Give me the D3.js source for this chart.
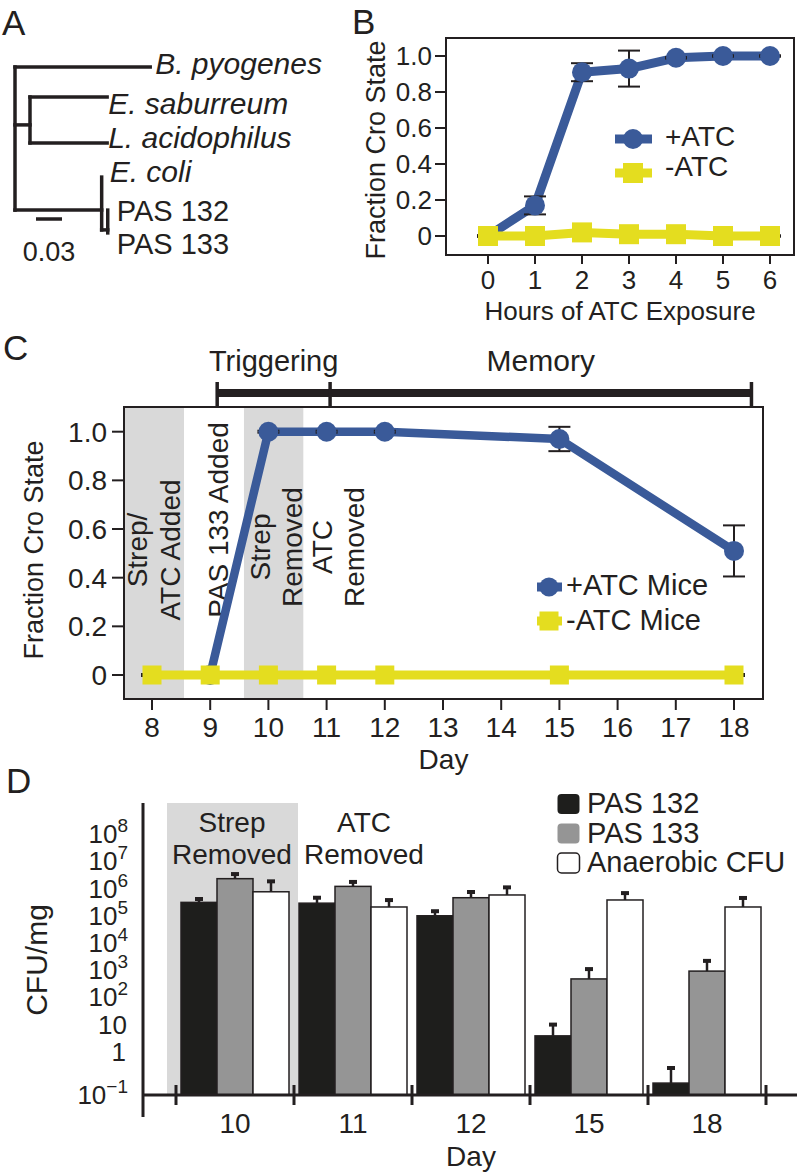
<!DOCTYPE html>
<html><head><meta charset="utf-8">
<script src="https://cdn.jsdelivr.net/npm/d3@7"></script>
<style>
body{margin:0;background:#fff}
svg{display:block}
text{font-family:"Liberation Sans",Arial,Helvetica,sans-serif;fill:#231f20}
</style>
</head><body>
<svg id="fig" width="799" height="1172"></svg>
<script>
// ---------------- DATA ----------------
// Panel A: tree
const treeNames = ["root","B. pyogenes","nodeA","E. saburreum","L. acidophilus","nodeB","E. coli","nodeC","PAS 132","PAS 133"];
const treeParents = [null,"root","root","nodeA","nodeA","root","nodeB","nodeB","nodeC","nodeC"];
const treeBranchLengths = [0,0.156,0.0173,0.089,0.089,0.1,0,0.007,0,0];
const treeRows = [2.4,0,1.93,1,2.53,4.77,3.67,5.43,4.77,5.53];
const scaleBarLength = 0.03;

// Panel B
const hoursB = [0,1,2,3,4,5,6];
const plusATC_B = [0,0.17,0.91,0.93,0.99,1.0,1.0];
const plusATC_B_err = [0.004,0.05,0.05,0.1,0.004,0.004,0.004];
const minusATC_B = [0,0,0.02,0.01,0.01,0,0];
const minusATC_B_err = [0.004,0.004,0.004,0.004,0.004,0.004,0.004];
const fracTicks = [0,0.2,0.4,0.6,0.8,1.0];
const fracTickLabels = ["0","0.2","0.4","0.6","0.8","1.0"];

// Panel C
const daysC_plus = [9,10,11,12,15,18];
const plusATC_C = [0,1,1,1,0.97,0.51];
const plusATC_C_err = [0.004,0.004,0.004,0.004,0.05,0.105];
const daysC_minus = [8,9,10,11,12,15,18];
const minusATC_C = [0,0,0,0,0,0,0];
const minusATC_C_err = [0.004,0.004,0.004,0.004,0.004,0.004,0.004];
const dayTicksC = [8,9,10,11,12,13,14,15,16,17,18];
const shadeC = [[7.4,8.55],[9.58,10.6]];
const phaseBounds = [9.12,11.06,18.3];
const phaseLabels = ["Triggering","Memory"];

// Panel D
const daysD = ["10","11","12","15","18"];
const strainsD = ["PAS 132","PAS 133","Anaerobic CFU"];
const cfuPAS132 = [3.1e5,2.9e5,1.0e5,3.9,0.072];
const cfuPAS132_upper = [4.5e5,5.0e5,1.6e5,11,0.28];
const cfuPAS133 = [2.3e6,1.2e6,4.6e5,480,930];
const cfuPAS133_upper = [3.7e6,1.9e6,8.1e5,1200,2400];
const cfuAnaerobic = [7.6e5,2.1e5,5.8e5,3.8e5,2.1e5];
const cfuAnaerobic_upper = [2.0e6,4.1e5,1.2e6,7.4e5,4.9e5];
const cfuTickExps = [-1,0,1,2,3,4,5,6,7,8];

// ---------------- STYLE ----------------
const BLUE = "#3a5a99", YELLOW = "#e4dd1f", SHADE = "#d9d9d9", INK = "#231f20";
const svg = d3.select("#fig");

function txt(g, x, y, s, o = {}) {
  const t = g.append("text").attr("x", x).attr("y", y).text(s)
    .attr("font-size", o.size || 26).attr("text-anchor", o.anchor || "start");
  if (o.rotate) t.attr("transform", `rotate(${o.rotate},${x},${y})`);
  if (o.italic) t.attr("font-style", "italic");
  return t;
}
function line(g, x1, y1, x2, y2, w, c = INK, cap = "butt") {
  return g.append("line").attr("x1", x1).attr("y1", y1).attr("x2", x2).attr("y2", y2)
    .attr("stroke", c).attr("stroke-width", w).attr("stroke-linecap", cap);
}

// Panel letters
txt(svg, 2, 35, "A", {size: 35});
txt(svg, 352, 34, "B", {size: 35});
txt(svg, 3, 360, "C", {size: 35});
txt(svg, 6, 793, "D", {size: 35});

// ---------------- PANEL A ----------------
(function () {
  const g = svg.append("g");
  const xA = d3.scaleLinear().domain([0, 0.03]).range([15, 41]);
  const yA = d3.scaleLinear().domain([0, 1]).range([67, 97]);
  const nodes = treeNames.map((n, i) => ({name: n, parent: treeParents[i], len: treeBranchLengths[i], row: treeRows[i]}));
  const byName = {};
  nodes.forEach(n => byName[n.name] = n);
  function depth(n) { return n.parent ? n.len + depth(byName[n.parent]) : 0; }
  nodes.forEach(n => n.depth = depth(n));
  nodes.forEach(n => {
    if (!n.parent) return;
    const p = byName[n.parent];
    if (n.len > 0) line(g, xA(p.depth), yA(n.row), xA(n.depth), yA(n.row), 3.5, INK, "square");
  });
  nodes.forEach(n => {
    const kids = nodes.filter(k => k.parent === n.name);
    if (!kids.length) return;
    const rows = kids.map(k => k.row);
    line(g, xA(n.depth), yA(d3.min(rows)), xA(n.depth), yA(d3.max(rows)), 3.5, INK, "square");
  });
  const labelLayout = {
    "B. pyogenes": {dx: 5, dy: 7, size: 30, italic: true},
    "E. saburreum": {dx: 1, dy: 17, size: 30, italic: true},
    "L. acidophilus": {dx: 1, dy: 5, size: 30, italic: true},
    "E. coli": {dx: 8, dy: 5, size: 30, italic: true},
    "PAS 132": {dx: 9, dy: 11, size: 29, italic: false},
    "PAS 133": {dx: 9, dy: 21, size: 29, italic: false}
  };
  nodes.forEach(n => {
    const L = labelLayout[n.name];
    if (!L) return;
    txt(g, xA(n.depth) + L.dx, yA(n.row) + L.dy, n.name, {size: L.size, italic: L.italic});
  });
  const sbx = 36, sby = 219;
  line(g, sbx, sby, sbx + (xA(scaleBarLength) - xA(0)), sby, 3.5);
  txt(g, sbx + (xA(scaleBarLength) - xA(0)) / 2, 261, String(scaleBarLength), {size: 27, anchor: "middle"});
})();

function drawSeries(g, xs, ys, errs, x, y, opt) {
  const pts = xs.map((d, i) => ({x: d, y: ys[i], e: errs[i]}));
  const lineGen = d3.line().x(d => x(d.x)).y(d => y(d.y));
  const err = () => pts.forEach(p => {
    const cx = x(p.x);
    line(g, cx, y(p.y - p.e), cx, y(p.y + p.e), 2);
    line(g, cx - opt.cap, y(p.y + p.e), cx + opt.cap, y(p.y + p.e), 2);
    line(g, cx - opt.cap, y(p.y - p.e), cx + opt.cap, y(p.y - p.e), 2);
  });
  if (opt.errFirst) err();
  g.append("path").datum(pts).attr("d", lineGen).attr("fill", "none")
    .attr("stroke", opt.color).attr("stroke-width", opt.lw).attr("stroke-linejoin", "round");
  if (!opt.errFirst) err();
  if (opt.shape === "circle") {
    g.selectAll(null).data(pts).enter().append("circle")
      .attr("cx", d => x(d.x)).attr("cy", d => y(d.y)).attr("r", opt.size / 2).attr("fill", opt.color);
  } else {
    g.selectAll(null).data(pts).enter().append("rect")
      .attr("x", d => x(d.x) - opt.size / 2).attr("y", d => y(d.y) - opt.size / 2)
      .attr("width", opt.size).attr("height", opt.size).attr("fill", opt.color);
  }
}

// ---------------- PANEL B ----------------
(function () {
  const g = svg.append("g");
  const F = {l: 446, r: 794, t: 38, b: 255};
  const xB = d3.scaleLinear().domain([0, 6]).range([488, 770]);
  const yB = d3.scaleLinear().domain([0, 1]).range([236, 56]);
  g.append("rect").attr("x", F.l).attr("y", F.t).attr("width", F.r - F.l).attr("height", F.b - F.t)
    .attr("fill", "none").attr("stroke", INK).attr("stroke-width", 2);
  fracTicks.forEach((t, i) => {
    line(g, F.l - 11, yB(t), F.l, yB(t), 2);
    txt(g, F.l - 14, yB(t) + 9, fracTickLabels[i], {size: 26, anchor: "end"});
  });
  hoursB.forEach(h => {
    line(g, xB(h), F.b, xB(h), F.b + 9, 2);
    txt(g, xB(h), 289, String(h), {size: 26, anchor: "middle"});
  });
  txt(g, 620, 320, "Hours of ATC Exposure", {size: 26, anchor: "middle"});
  txt(g, 385, 150, "Fraction Cro State", {size: 27, anchor: "middle", rotate: -90});

  drawSeries(g, hoursB, plusATC_B, plusATC_B_err, xB, yB, {color: BLUE, lw: 9, shape: "circle", size: 20, cap: 11});
  drawSeries(g, hoursB, minusATC_B, minusATC_B_err, xB, yB, {color: YELLOW, lw: 9, shape: "rect", size: 20, cap: 11, errFirst: true});

  line(g, 615, 139, 652, 139, 9, BLUE);
  g.append("circle").attr("cx", 633).attr("cy", 139).attr("r", 10).attr("fill", BLUE);
  txt(g, 665, 146, "+ATC", {size: 28});
  line(g, 615, 173, 652, 173, 9, YELLOW);
  g.append("rect").attr("x", 623).attr("y", 163).attr("width", 20).attr("height", 20).attr("fill", YELLOW);
  txt(g, 665, 176, "-ATC", {size: 28});
})();

// ---------------- PANEL C ----------------
(function () {
  const g = svg.append("g");
  const F = {l: 124, r: 763, t: 407, b: 699};
  const xC = d3.scaleLinear().domain([8, 18]).range([152, 734]);
  const yC = d3.scaleLinear().domain([0, 1]).range([675, 431.7]);
  shadeC.forEach(s => {
    const x0 = Math.max(F.l, xC(s[0])), x1 = xC(s[1]);
    g.append("rect").attr("x", x0).attr("y", F.t).attr("width", x1 - x0).attr("height", F.b - F.t).attr("fill", SHADE);
  });
  const ann = [
    {lines: ["Strep/", "ATC Added"], xs: [147, 180], cy: 550},
    {lines: ["PAS 133 Added"], xs: [228], cy: 520},
    {lines: ["Strep", "Removed"], xs: [270, 302], cy: 547},
    {lines: ["ATC", "Removed"], xs: [332, 364], cy: 547}
  ];
  ann.forEach(a => a.lines.forEach((s, i) =>
    txt(g, a.xs[i], a.cy, s, {size: 28, anchor: "middle", rotate: -90})));

  g.append("rect").attr("x", F.l).attr("y", F.t).attr("width", F.r - F.l).attr("height", F.b - F.t)
    .attr("fill", "none").attr("stroke", INK).attr("stroke-width", 2);
  fracTicks.forEach((t, i) => {
    line(g, F.l - 12, yC(t), F.l, yC(t), 2);
    txt(g, F.l - 17, yC(t) + 10, fracTickLabels[i], {size: 28, anchor: "end"});
  });
  dayTicksC.forEach(d => {
    line(g, xC(d), F.b, xC(d), F.b + 11, 2);
    txt(g, xC(d), 737, String(d), {size: 28, anchor: "middle"});
  });
  txt(g, (F.l + F.r) / 2, 769, "Day", {size: 28, anchor: "middle"});
  txt(g, 43, 550, "Fraction Cro State", {size: 27, anchor: "middle", rotate: -90});

  line(g, xC(phaseBounds[0]), 393, xC(phaseBounds[2]), 393, 8);
  phaseBounds.forEach(b => line(g, xC(b), 382, xC(b), 406, 3.5));
  txt(g, (xC(phaseBounds[0]) + xC(phaseBounds[1])) / 2, 371, phaseLabels[0], {size: 29, anchor: "middle"});
  txt(g, (xC(phaseBounds[1]) + xC(phaseBounds[2])) / 2, 371, phaseLabels[1], {size: 30, anchor: "middle"});

  drawSeries(g, daysC_plus, plusATC_C, plusATC_C_err, xC, yC, {color: BLUE, lw: 8.5, shape: "circle", size: 20, cap: 11});
  drawSeries(g, daysC_minus, minusATC_C, minusATC_C_err, xC, yC, {color: YELLOW, lw: 9, shape: "rect", size: 19, cap: 11, errFirst: true});

  line(g, 537, 587, 562, 587, 9, BLUE);
  g.append("circle").attr("cx", 549).attr("cy", 587).attr("r", 9.5).attr("fill", BLUE);
  txt(g, 566, 595, "+ATC Mice", {size: 29});
  line(g, 537, 621, 562, 621, 9, YELLOW);
  g.append("rect").attr("x", 539.5).attr("y", 611.5).attr("width", 19).attr("height", 19).attr("fill", YELLOW);
  txt(g, 566, 630, "-ATC Mice", {size: 29});
})();

// ---------------- PANEL D ----------------
(function () {
  const g = svg.append("g");
  const axisX = 143, axisY = 1095;
  const xD = d3.scaleBand().domain(daysD).range([176, 766]);
  const xSub = d3.scaleBand().domain(strainsD).range([5, 113]);
  const yD = d3.scaleLog().domain([Math.pow(10, -1.58), Math.pow(10, 9.14)]).range([1095, 803]);
  const fills = {"PAS 132": "#1e1e1c", "PAS 133": "#959595", "Anaerobic CFU": "#ffffff"};
  const vals = {"PAS 132": [cfuPAS132, cfuPAS132_upper], "PAS 133": [cfuPAS133, cfuPAS133_upper], "Anaerobic CFU": [cfuAnaerobic, cfuAnaerobic_upper]};

  g.append("rect").attr("x", xD("10") - 9).attr("y", 803).attr("width", xD.bandwidth() + 13).attr("height", axisY - 803).attr("fill", SHADE);
  txt(g, 232, 832, "Strep", {size: 28, anchor: "middle"});
  txt(g, 232, 864, "Removed", {size: 28, anchor: "middle"});
  txt(g, 364, 832, "ATC", {size: 28, anchor: "middle"});
  txt(g, 364, 864, "Removed", {size: 28, anchor: "middle"});

  strainsD.forEach(s => {
    const [m, up] = vals[s];
    daysD.forEach((d, i) => {
      const x0 = xD(d) + xSub(s), w = xSub.bandwidth();
      g.append("rect").attr("x", x0).attr("y", yD(m[i])).attr("width", w).attr("height", axisY - yD(m[i]))
        .attr("fill", fills[s]).attr("stroke", INK).attr("stroke-width", 1.5);
      const cx = x0 + w / 2;
      line(g, cx, yD(m[i]), cx, yD(up[i]), 2.5);
      line(g, cx - 4, yD(up[i]) + 1, cx + 4, yD(up[i]) + 1, 4);
    });
  });

  line(g, axisX, 803, axisX, 1117, 3);
  line(g, axisX, axisY, 797, axisY, 3);
  daysD.concat(["end"]).forEach(d => {
    const x = d === "end" ? xD.range()[1] : xD(d);
    line(g, x, 1085, x, 1105, 3);
  });
  daysD.forEach(d => txt(g, xD(d) + xD.bandwidth() / 2, 1133, d, {size: 28, anchor: "middle"}));
  txt(g, xD("12") + xD.bandwidth() / 2, 1166, "Day", {size: 28, anchor: "middle"});

  cfuTickExps.forEach(e => {
    const yy = e === -1 ? yD.domain()[0] : Math.pow(10, e);
    const base = yD(yy) + 9;
    const t = g.append("text").attr("x", 128).attr("y", base).attr("text-anchor", "end").attr("font-size", 26);
    if (e === 0) { t.attr("x", 126).text("1"); return; }
    if (e === 1) { t.attr("x", 127).text("10"); return; }
    t.append("tspan").text("10");
    t.append("tspan").attr("font-size", 19).attr("dy", -11).text(e === -1 ? "\u22121" : String(e));
  });
  txt(g, 47, 960, "CFU/mg", {size: 30, anchor: "middle", rotate: -90});

  strainsD.forEach((s, i) => {
    g.append("rect").attr("x", 557.5).attr("y", 794 + i * 29.5).attr("width", 22).attr("height", 20).attr("rx", 4)
      .attr("fill", fills[s]).attr("stroke", s === "Anaerobic CFU" ? INK : "none").attr("stroke-width", 1.5);
    txt(g, 587, 813 + i * 29.5, s, {size: 29});
  });
})();
</script>
</body></html>
